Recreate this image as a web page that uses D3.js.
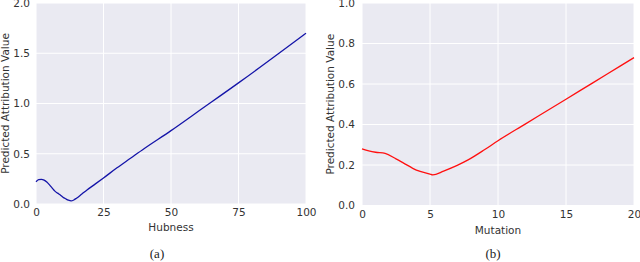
<!DOCTYPE html>
<html>
<head>
<meta charset="utf-8">
<script src="https://cdn.jsdelivr.net/npm/d3@7"></script>
<style>
  body { margin: 0; background: #fff; }
  svg text { font-family: "DejaVu Sans", sans-serif; fill: #333; }
  .caption { font-family: "Liberation Serif", serif !important; fill: #222 !important; }
</style>
</head>
<body>
<script>
// Data
var hubnessX = [0, 1, 2, 3, 4, 5, 6, 7, 8, 9, 10, 11, 12, 13, 14, 15, 17, 19, 22, 25, 30, 35, 40, 50, 60, 75, 90, 100];
var hubnessY = [0.222, 0.243, 0.246, 0.238, 0.218, 0.19, 0.158, 0.128, 0.108, 0.09, 0.068, 0.052, 0.038, 0.031, 0.04, 0.058, 0.1, 0.142, 0.2, 0.259, 0.36, 0.455, 0.55, 0.73, 0.92, 1.205, 1.5, 1.70];
var mutationX = [0, 0.5, 1, 1.7, 2.5, 3, 4, 5, 5.2, 6, 7, 7.8, 9, 10, 12, 14, 16, 18, 20];
var mutationY = [0.28, 0.27, 0.263, 0.257, 0.23, 0.212, 0.175, 0.155, 0.151, 0.17, 0.198, 0.225, 0.275, 0.32, 0.402, 0.484, 0.566, 0.648, 0.73];

var hubnessXTicks = [0, 25, 50, 75, 100];
var hubnessYTicks = [0, 0.5, 1.0, 1.5, 2.0];
var mutationXTicks = [0, 5, 10, 15, 20];
var mutationYTicks = [0, 0.2, 0.4, 0.6, 0.8, 1.0];

var svgWidth = 640;
var svgHeight = 262;

var svg = d3.select("body")
  .append("svg")
  .attr("width", svgWidth)
  .attr("height", svgHeight);

function drawPanel(p) {
  var width = p.right - p.left;
  var height = p.bottom - p.top;

  var g = svg.append("g")
    .attr("transform", `translate(${p.left}, ${p.top})`);

  var x = d3.scaleLinear().domain(p.xDomain).range([0, width]);
  var y = d3.scaleLinear().domain(p.yDomain).range([height, 0]);

  g.append("rect")
    .attr("width", width)
    .attr("height", height)
    .attr("fill", "#eaeaf2");

  // grid
  g.selectAll(".vgrid")
    .data(p.xTicks)
    .enter()
    .append("line")
      .attr("x1", d => x(d)).attr("x2", d => x(d))
      .attr("y1", 0).attr("y2", height)
      .attr("stroke", "#fff").attr("stroke-width", 1);

  g.selectAll(".hgrid")
    .data(p.yTicks)
    .enter()
    .append("line")
      .attr("y1", d => y(d)).attr("y2", d => y(d))
      .attr("x1", 0).attr("x2", width)
      .attr("stroke", "#fff").attr("stroke-width", 1);

  var xAxis = g.append("g")
    .attr("transform", `translate(0, ${height})`)
    .call(d3.axisBottom(x).tickValues(p.xTicks).tickSize(0).tickPadding(p.xPad).tickFormat(d3.format("d")));
  var yAxis = g.append("g")
    .call(d3.axisLeft(y).tickValues(p.yTicks).tickSize(0).tickPadding(p.yPad).tickFormat(d3.format(".1f")));

  [xAxis, yAxis].forEach(a => {
    a.select(".domain").remove();
    a.selectAll("text").style("font-size", "10.5px").style("font-family", "DejaVu Sans").attr("fill", "#333");
  });

  var line = d3.line()
    .x((d, i) => x(p.xs[i]))
    .y(d => y(d))
    .curve(d3.curveMonotoneX);

  g.append("path")
    .datum(p.ys)
    .attr("d", line)
    .attr("fill", "none")
    .attr("stroke", p.color)
    .attr("stroke-width", 1.3);

  g.append("text")
    .attr("x", width / 2)
    .attr("y", height + p.xLabelDy)
    .attr("text-anchor", "middle")
    .style("font-size", "10.5px")
    .text(p.xLabel);

  g.append("text")
    .attr("transform", `translate(${p.yLabelX - p.left}, ${height / 2}) rotate(-90)`)
    .attr("text-anchor", "middle")
    .attr("dy", "0.35em")
    .style("font-size", "10.5px")
    .text("Predicted Attribution Value");

  svg.append("text")
    .attr("class", "caption")
    .attr("x", p.capX)
    .attr("y", 258)
    .attr("text-anchor", "middle")
    .style("font-size", "13px")
    .text(p.caption);
}

drawPanel({
  left: 36, right: 306, top: 3, bottom: 204,
  xDomain: [0, 100], yDomain: [0, 2],
  xTicks: hubnessXTicks, yTicks: hubnessYTicks,
  xs: hubnessX, ys: hubnessY,
  color: "#1414a8",
  xLabel: "Hubness", xLabelDy: 27, xPad: 5, yPad: 6,
  yLabelX: 5, caption: "(a)", capX: 157
});

drawPanel({
  left: 362, right: 634, top: 3, bottom: 205.5,
  xDomain: [0, 20], yDomain: [0, 1],
  xTicks: mutationXTicks, yTicks: mutationYTicks,
  xs: mutationX, ys: mutationY,
  color: "#ff1010",
  xLabel: "Mutation", xLabelDy: 28, xPad: 5, yPad: 7,
  yLabelX: 330, caption: "(b)", capX: 493
});
</script>
</body>
</html>
